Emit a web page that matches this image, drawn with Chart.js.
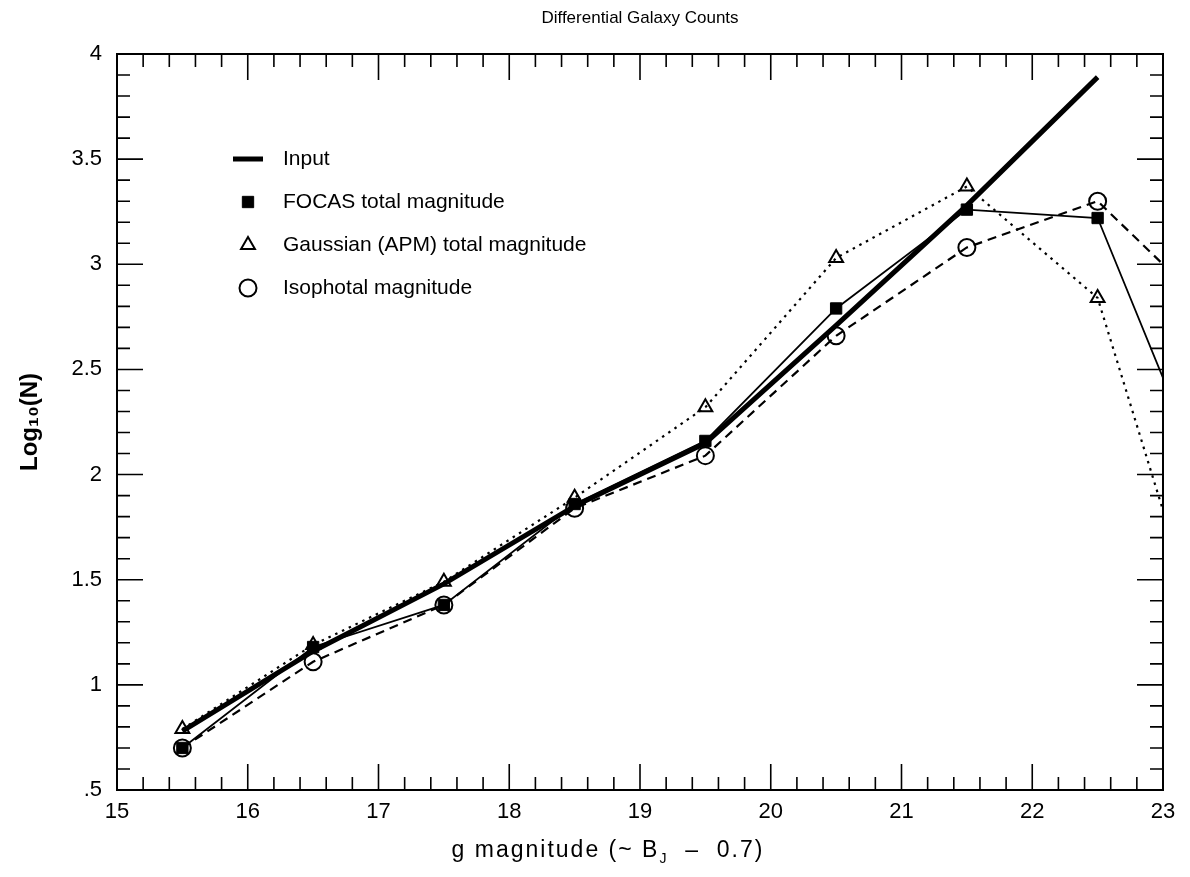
<!DOCTYPE html>
<html>
<head>
<meta charset="utf-8">
<script src="https://cdn.jsdelivr.net/npm/chart.js@4.4.1/dist/chart.umd.min.js"></script>
<style>
  body { margin: 0; background: #fff; }
</style>
</head>
<body>
<canvas id="counts-chart" width="1190" height="877"></canvas>
<script>
// magnitude bins (last bin is off the right edge, lines run out of the frame)
const mags = [15.5, 16.5, 17.5, 18.5, 19.5, 20.5, 21.5, 22.5, 23.5]

const inputLog = [0.78, 1.16, 1.48, 1.85, 2.15, 2.71, 3.28, 3.89]
const focasLog = [0.70, 1.18, 1.38, 1.86, 2.16, 2.79, 3.26, 3.22, 1.70]
const gaussLog = [0.79, 1.19, 1.49, 1.89, 2.32, 3.03, 3.37, 2.84, 0.82]
const isoLog = [0.70, 1.11, 1.38, 1.84, 2.09, 2.66, 3.08, 3.30, 2.70]

const xRange = [15, 23]
const yRange = [0.5, 4]

const FONT = '"Liberation Sans", Arial, Helvetica, sans-serif'

const pts = ys => ys.map((y, i) => ({ x: mags[i], y: y }))

// start: frame, inward ticks, legend and x title
const framePlugin = {
    id: 'frame',
    afterDatasetsDraw(chart) {
        const ctx = chart.ctx
        const a = chart.chartArea
        const xs = chart.scales.x
        const ys = chart.scales.y
        ctx.save()
        ctx.strokeStyle = '#000'
        ctx.lineWidth = 2
        ctx.strokeRect(a.left, a.top, a.right - a.left, a.bottom - a.top)
        ctx.lineWidth = 1.6
        ctx.beginPath()
        for (let i = 0; i <= 40; i++) {
            const v = xRange[0] + i * 0.2
            const px = xs.getPixelForValue(v)
            const len = i % 5 === 0 ? 26 : 13
            ctx.moveTo(px, a.bottom); ctx.lineTo(px, a.bottom - len)
            ctx.moveTo(px, a.top); ctx.lineTo(px, a.top + len)
        }
        for (let i = 0; i <= 35; i++) {
            const v = yRange[0] + i * 0.1
            const py = ys.getPixelForValue(v)
            const len = i % 5 === 0 ? 26 : 13
            ctx.moveTo(a.left, py); ctx.lineTo(a.left + len, py)
            ctx.moveTo(a.right, py); ctx.lineTo(a.right - len, py)
        }
        ctx.stroke()
        ctx.restore()
    },
    afterDraw(chart) {
        const ctx = chart.ctx
        const a = chart.chartArea
        ctx.save()

        // legend inside the plot
        const sx = a.left + 131
        const tx = a.left + 166
        ctx.textBaseline = 'middle'
        chart.data.datasets.forEach((ds, i) => {
            const y = a.top + 105 + i * 43
            ctx.strokeStyle = '#000'
            if (ds.pointRadius === 0) {
                ctx.lineWidth = 5
                ctx.beginPath()
                ctx.moveTo(sx - 15, y); ctx.lineTo(sx + 15, y)
                ctx.stroke()
            } else {
                ctx.fillStyle = ds.pointBackgroundColor
                ctx.lineWidth = ds.pointBorderWidth
                Chart.helpers.drawPoint(ctx, {
                    pointStyle: ds.pointStyle,
                    radius: ds.pointRadius,
                    borderWidth: ds.pointBorderWidth
                }, sx, y)
            }
            ctx.fillStyle = '#000'
            ctx.font = '21px ' + FONT
            ctx.fillText(ds.label, tx, y)
        })

        // x title with subscript J
        const parts = [
            ['g magnitude (~ B', 23, 0],
            ['J', 14, 6],
            ['  \u2013  0.7)', 23, 0]
        ]
        ctx.letterSpacing = '2px'
        ctx.textBaseline = 'alphabetic'
        let w = 0
        parts.forEach(p => { ctx.font = p[1] + 'px ' + FONT; w += ctx.measureText(p[0]).width })
        let x = 608 - w / 2
        parts.forEach(p => {
            ctx.font = p[1] + 'px ' + FONT
            ctx.fillText(p[0], x, 857 + p[2])
            x += ctx.measureText(p[0]).width
        })
        ctx.restore()
    }
}
// end: frame

const countsChart = new Chart(document.getElementById('counts-chart'), {
    type: 'line',
    data: {
        datasets: [{
            label: 'Input',
            data: pts(inputLog),
            borderColor: '#000',
            borderWidth: 5,
            pointRadius: 0,
            order: 4
        }, {
            label: 'FOCAS total magnitude',
            data: pts(focasLog),
            borderColor: '#000',
            borderWidth: 1.8,
            pointStyle: 'rect',
            pointRadius: 8,
            pointBorderWidth: 1,
            pointBackgroundColor: '#000',
            pointBorderColor: '#000',
            order: 1
        }, {
            label: 'Gaussian (APM) total magnitude',
            data: pts(gaussLog),
            borderColor: '#000',
            borderWidth: 2.2,
            borderDash: [2.5, 5],
            pointStyle: 'triangle',
            pointRadius: 8,
            pointBorderWidth: 2,
            pointBackgroundColor: 'rgba(0,0,0,0)',
            pointBorderColor: '#000',
            order: 2
        }, {
            label: 'Isophotal magnitude',
            data: pts(isoLog),
            borderColor: '#000',
            borderWidth: 2.2,
            borderDash: [9, 6],
            pointStyle: 'circle',
            pointRadius: 8.5,
            pointBorderWidth: 2,
            pointBackgroundColor: 'rgba(0,0,0,0)',
            pointBorderColor: '#000',
            order: 3
        }]
    },
    options: {
        responsive: false,
        animation: false,
        clip: 0,
        layout: { padding: { left: 0, right: 27, top: 0, bottom: 0 } },
        plugins: {
            legend: { display: false },
            tooltip: { enabled: false },
            title: {
                display: true,
                fullSize: false,
                text: 'Differential Galaxy Counts',
                color: '#000',
                font: { family: FONT, size: 17, weight: 'normal' },
                padding: { top: 8, bottom: 25.6 }
            }
        },
        scales: {
            x: {
                type: 'linear',
                min: xRange[0],
                max: xRange[1],
                grid: { display: false, drawTicks: false },
                border: { display: false },
                ticks: {
                    stepSize: 1,
                    padding: 9,
                    color: '#000',
                    font: { family: FONT, size: 22 }
                },
                title: { display: false },
                afterFit: s => { s.height = 87 }
            },
            y: {
                type: 'linear',
                min: yRange[0],
                max: yRange[1],
                grid: { display: false, drawTicks: false },
                border: { display: false },
                ticks: {
                    stepSize: 0.5,
                    padding: 15,
                    color: '#000',
                    font: { family: FONT, size: 22 },
                    callback: v => (v < 1 ? String(v).replace(/^0/, '') : String(v))
                },
                title: {
                    display: true,
                    text: 'Log\u2081\u2080(N)',
                    color: '#000',
                    font: { family: FONT, size: 24, weight: 'bold' },
                    padding: { top: 16, bottom: 0 }
                },
                afterFit: s => { s.width = 117 }
            }
        }
    },
    plugins: [framePlugin]
})
</script>
</body>
</html>
